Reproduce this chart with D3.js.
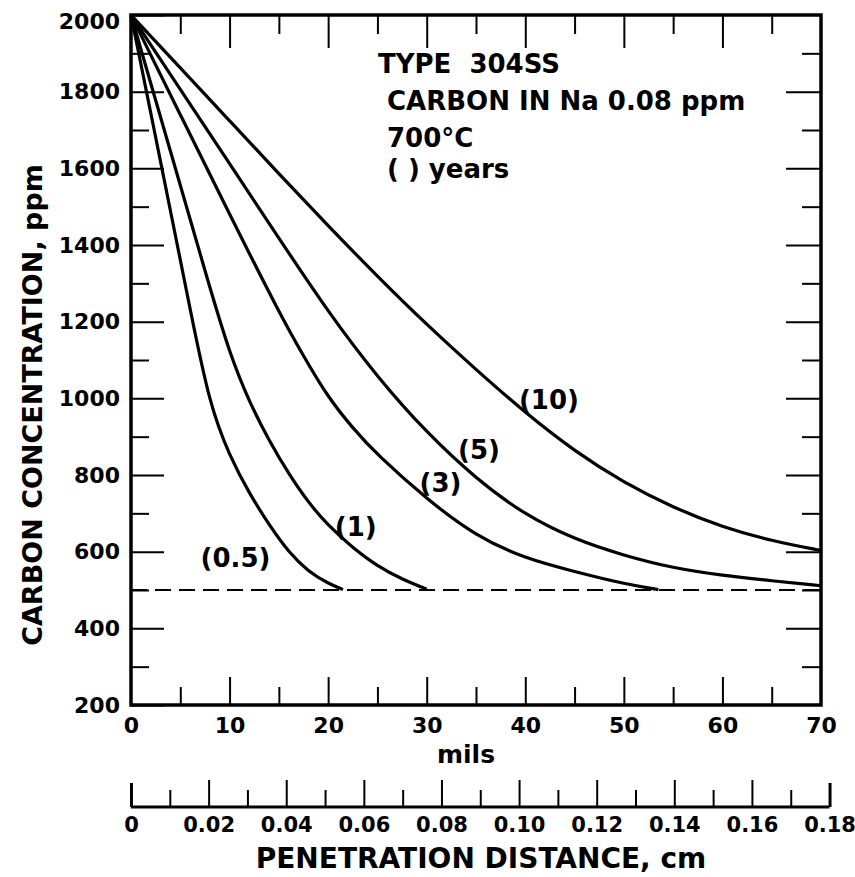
<!DOCTYPE html>
<html>
<head>
<meta charset="utf-8">
<script src="https://cdn.jsdelivr.net/npm/d3@7"></script>
<style>
  body { margin: 0; background: #fff; }
  svg text { font-family: "DejaVu Sans", sans-serif; font-weight: bold; fill: #000; }
</style>
</head>
<body>
<div id="chart"></div>
<script>
const WIDTH = 855, HEIGHT = 877;
const MARGIN = { left: 131, top: 15, right: 34, bottom: 172 };
const INNER_WIDTH = WIDTH - MARGIN.left - MARGIN.right;
const INNER_HEIGHT = HEIGHT - MARGIN.top - MARGIN.bottom;

// curves (mils, ppm)
const mils05 = [0, 2, 4, 6, 8, 10, 12, 14, 16, 18, 20, 21.5];
const ppm05  = [2000, 1745, 1490, 1232, 980, 850, 752, 670, 598, 548, 517, 501];
const mils1 = [0, 4, 8, 10, 12, 14, 16, 18, 20, 22.5, 25, 27.5, 30];
const ppm1  = [2000, 1645, 1288, 1118, 990, 890, 803, 728, 668, 610, 562, 528, 502];
const mils3 = [0, 5, 10, 15, 17.5, 20, 22.5, 25, 30, 35, 40, 45, 50, 53.5];
const ppm3  = [2000, 1740, 1480, 1225, 1110, 1002, 922, 852, 737, 640, 582, 548, 516, 501];
const mils5 = [0, 5, 10, 15, 20, 25, 30, 35, 40, 45, 50, 55, 60, 65, 70];
const ppm5  = [2000, 1806, 1612, 1418, 1225, 1055, 910, 790, 695, 632, 590, 557, 538, 524, 511];
const mils10 = [0, 5, 10, 15, 20, 25, 30, 35, 40, 45, 50, 55, 60, 65, 70];
const ppm10  = [2000, 1862, 1724, 1586, 1450, 1318, 1192, 1075, 962, 862, 780, 715, 664, 628, 603];

const curveLabels = ["(0.5)", "(1)", "(3)", "(5)", "(10)"];
const labelMils = [10.6, 22.8, 31.4, 35.3, 42.4];
const labelPpm = [584, 664, 779, 865, 996];

const baseline = 500;

// ticks
const yMajor = [200, 400, 600, 800, 1000, 1200, 1400, 1600, 1800, 2000];
const yMinor = [300, 500, 700, 900, 1100, 1300, 1500, 1700, 1900];
const xMajor = [0, 10, 20, 30, 40, 50, 60, 70];
const xMinor = [5, 15, 25, 35, 45, 55, 65];
const cmMajor = [0, 0.02, 0.04, 0.06, 0.08, 0.10, 0.12, 0.14, 0.16, 0.18];
const cmMinor = [0.01, 0.03, 0.05, 0.07, 0.09, 0.11, 0.13, 0.15, 0.17];
const cmLabels = ["0", "0.02", "0.04", "0.06", "0.08", "0.10", "0.12", "0.14", "0.16", "0.18"];

const notes = ["CARBON IN Na 0.08 ppm", "700°C", "( ) years"];

const series = [
  mils05.map((m, i) => ({ m, c: ppm05[i] })),
  mils1.map((m, i) => ({ m, c: ppm1[i] })),
  mils3.map((m, i) => ({ m, c: ppm3[i] })),
  mils5.map((m, i) => ({ m, c: ppm5[i] })),
  mils10.map((m, i) => ({ m, c: ppm10[i] }))
];

const root = d3.select("#chart")
  .append("svg")
  .attr("width", WIDTH)
  .attr("height", HEIGHT)
  .attr("viewBox", `0 0 ${WIDTH} ${HEIGHT}`);

root.append("rect").attr("width", WIDTH).attr("height", HEIGHT).attr("fill", "#fff");

const svg = root.append("g")
  .attr("transform", `translate(${MARGIN.left}, ${MARGIN.top})`);

const x = d3.scaleLinear().domain([0, 70]).range([0, INNER_WIDTH]);
const y = d3.scaleLinear().domain([200, 2000]).range([INNER_HEIGHT, 0]);
// 1 mil = 0.00254 cm
const xcm = d3.scaleLinear().domain([0, 0.18]).range([0, x(0.18 / 0.00254)]);

function styleAxis(g, fontSize) {
  g.select(".domain").remove();
  g.selectAll(".tick line").attr("stroke", "#000").attr("stroke-width", 2);
  g.selectAll(".tick text")
    .style("font-size", fontSize + "px")
    .style("font-family", "DejaVu Sans")
    .style("font-weight", "bold");
}

// left
svg.append("g")
  .call(d3.axisLeft(y).tickValues(yMajor).tickSize(-33).tickPadding(11).tickFormat(d3.format("d")))
  .call(g => styleAxis(g, 22))
  .call(g => g.selectAll(".tick text").filter(d => d === 2000).attr("dy", "0.6em"));
svg.append("g")
  .call(d3.axisLeft(y).tickValues(yMinor).tickSize(-18).tickFormat(""))
  .call(g => styleAxis(g, 22));

// right
svg.append("g")
  .attr("transform", `translate(${INNER_WIDTH}, 0)`)
  .call(d3.axisRight(y).tickValues(yMajor.slice(1, -1)).tickSize(-35).tickFormat(""))
  .call(g => styleAxis(g, 22));
svg.append("g")
  .attr("transform", `translate(${INNER_WIDTH}, 0)`)
  .call(d3.axisRight(y).tickValues(yMinor).tickSize(-19).tickFormat(""))
  .call(g => styleAxis(g, 22));

// top
svg.append("g")
  .call(d3.axisTop(x).tickValues(xMajor.slice(1, -1)).tickSize(-33).tickFormat(""))
  .call(g => styleAxis(g, 22));
svg.append("g")
  .call(d3.axisTop(x).tickValues(xMinor).tickSize(-19).tickFormat(""))
  .call(g => styleAxis(g, 22));

// bottom
svg.append("g")
  .attr("transform", `translate(0, ${INNER_HEIGHT})`)
  .call(d3.axisBottom(x).tickValues(xMajor).tickSize(-28).tickPadding(12).tickFormat(d3.format("d")))
  .call(g => styleAxis(g, 22))
  .call(g => g.selectAll(".tick line").filter(d => d === 0 || d === 70).remove());
svg.append("g")
  .attr("transform", `translate(0, ${INNER_HEIGHT})`)
  .call(d3.axisBottom(x).tickValues(xMinor).tickSize(-18).tickFormat(""))
  .call(g => styleAxis(g, 22));

// frame
svg.append("rect")
  .attr("x", 0).attr("y", 0)
  .attr("width", INNER_WIDTH).attr("height", INNER_HEIGHT)
  .attr("fill", "none").attr("stroke", "#000").attr("stroke-width", 3.5);

// baseline dashed
svg.append("line")
  .attr("x1", x(0)).attr("x2", x(70))
  .attr("y1", y(baseline)).attr("y2", y(baseline))
  .attr("stroke", "#000").attr("stroke-width", 1.8)
  .attr("stroke-dasharray", "16,8");

// curves
const line = d3.line().x(d => x(d.m)).y(d => y(d.c)).curve(d3.curveBasis);
svg.selectAll("path.curve")
  .data(series)
  .join("path")
  .attr("class", "curve")
  .attr("d", line)
  .attr("fill", "none")
  .attr("stroke", "#000")
  .attr("stroke-width", 3.2)
  .attr("stroke-linejoin", "round");

svg.selectAll("text.clabel")
  .data(curveLabels)
  .join("text")
  .attr("class", "clabel")
  .attr("x", (d, i) => x(labelMils[i]))
  .attr("y", (d, i) => y(labelPpm[i]))
  .attr("text-anchor", "middle")
  .attr("dy", "0.35em")
  .style("font-size", "26px")
  .text(d => d);

// cm axis
const cmAxisY = 807 - MARGIN.top;
const cmG = svg.append("g").attr("transform", `translate(0, ${cmAxisY})`);
cmG.append("line")
  .attr("x1", xcm(0)).attr("x2", xcm(0.18))
  .attr("stroke", "#000").attr("stroke-width", 3);
cmG.append("g")
  .call(d3.axisBottom(xcm).tickValues(cmMajor).tickSize(-27).tickPadding(10).tickFormat((d, i) => cmLabels[i]))
  .call(g => styleAxis(g, 21))
  .call(g => g.selectAll(".tick line").filter(d => d === 0 || d === 0.18).attr("y2", -24).attr("stroke-width", 3));
cmG.append("g")
  .call(d3.axisBottom(xcm).tickValues(cmMinor).tickSize(-17).tickFormat(""))
  .call(g => styleAxis(g, 21));

// axis titles
svg.append("text")
  .attr("x", 466 - MARGIN.left)
  .attr("y", 763 - MARGIN.top)
  .attr("text-anchor", "middle")
  .style("font-size", "25px")
  .text("mils");

svg.append("text")
  .attr("x", 481 - MARGIN.left)
  .attr("y", 868 - MARGIN.top)
  .attr("text-anchor", "middle")
  .style("font-size", "28px")
  .text("PENETRATION DISTANCE, cm");

svg.append("text")
  .attr("transform", "rotate(-90)")
  .attr("x", -(405 - MARGIN.top))
  .attr("y", 42 - MARGIN.left)
  .attr("text-anchor", "middle")
  .style("font-size", "27px")
  .text("CARBON CONCENTRATION, ppm");

// notes
const title = root.append("text")
  .attr("x", 378).attr("y", 73)
  .style("font-size", "26px");
title.append("tspan").text("TYPE");
title.append("tspan").attr("dx", 18).text("304SS");

root.selectAll("text.note")
  .data(notes)
  .join("text")
  .attr("class", "note")
  .attr("x", 387)
  .attr("y", (d, i) => [110, 147, 178][i])
  .style("font-size", "26px")
  .text(d => d);
</script>
</body>
</html>
